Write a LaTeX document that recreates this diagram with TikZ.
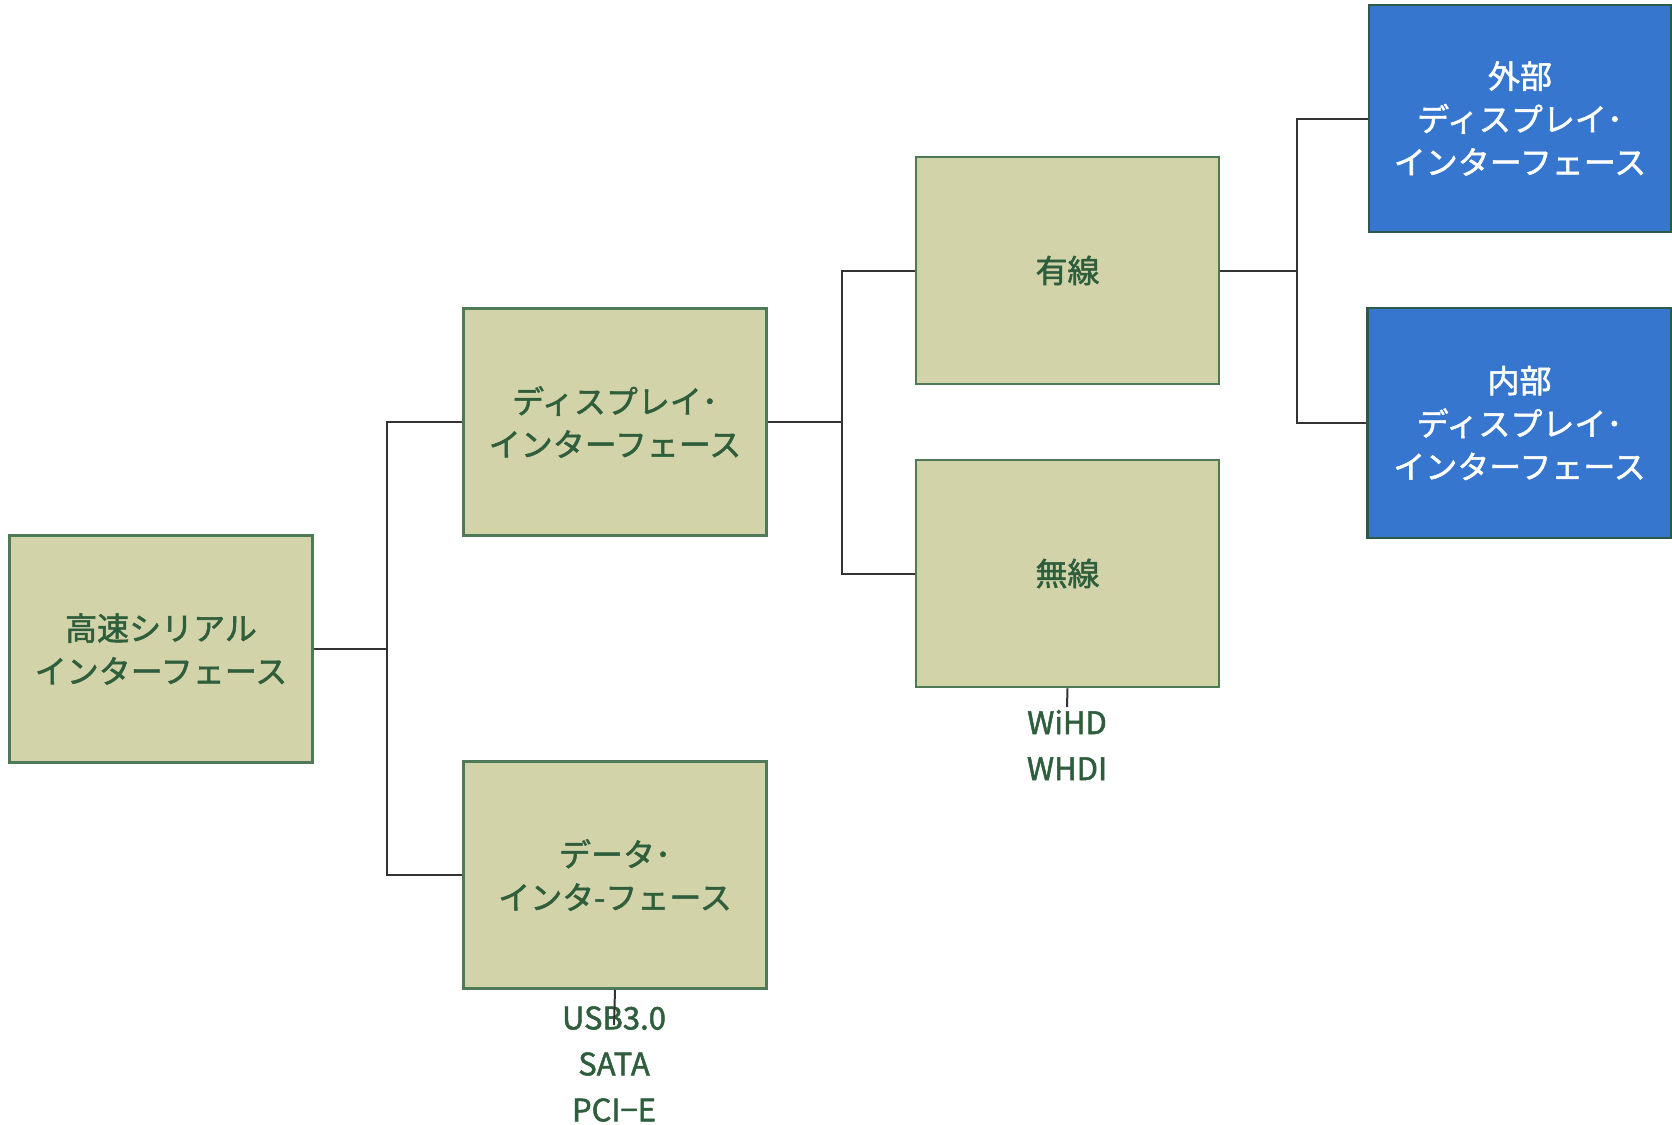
\documentclass[tikz,border=0pt]{standalone}
\usepackage{fontspec}
\setmainfont{Noto Sans CJK JP}[FakeBold=1.6]
\definecolor{boxfill}{HTML}{D3D3AA}
\definecolor{boxline}{HTML}{4F7A57}
\definecolor{txtgreen}{HTML}{2E5E3C}
\definecolor{bluefill}{HTML}{3676CE}
\definecolor{blueline}{HTML}{2C5A48}
\definecolor{conn}{HTML}{333333}
\tikzset{
  olivebox/.style={draw=boxline, line width=2.5pt, fill=boxfill, text=txtgreen,
    minimum width=303pt, minimum height=227pt, inner sep=0pt, align=center,
    font=\fontsize{32}{43}\selectfont},
  bluebox/.style={olivebox, draw=blueline, fill=bluefill, text=white},
  conline/.style={draw=conn, line width=2pt},
  tag/.style={text=txtgreen, align=center, inner sep=0pt, font=\fontsize{31}{46}\selectfont}
}
\begin{document}
\begin{tikzpicture}[x=1pt,y=-1pt]
\path[use as bounding box, fill=white] (0,0) rectangle (1672,1124);
\node[olivebox] (hs) at (161,649) {高速シリアル\\インターフェース};
\node[olivebox] (disp) at (615,422) {ディスプレイ･\\インターフェース};
\node[olivebox] (data) at (615,875) {データ･\\インタ-フェース};
\node[olivebox] (wired) at (1067.5,270.5) {有線};
\node[olivebox] (wless) at (1067.5,573.5) {無線};
\node[bluebox, minimum width=302pt] (ext) at (1520,118.5) {外部\\ディスプレイ･\\インターフェース};
\node[bluebox, minimum width=304pt, minimum height=230pt] (int) at (1519.5,423) {内部\\ディスプレイ･\\インターフェース};
% tree connectors
\coordinate (j1) at (387,649);
\coordinate (j2) at (842,422);
\coordinate (j3) at (1297,270.5);
\draw[conline] (hs.east) -- (j1);
\draw[conline] (disp.west) -| (j1) |- (data.west);
\draw[conline] (disp.east) -- (j2);
\draw[conline] (wired.west) -| (j2) |- (wless.west);
\draw[conline] (wired.east) -- (j3);
\draw[conline] (ext.west) -| (j3) |- (int.west);
% labels below
\node[tag] (wl) at (1067,745) {WiHD\\WHDI};
\node[tag] (dl) at (614,1064) {USB3.0\\SATA\\PCI−E};
\coordinate (wt) at (1067,707);
\coordinate (dt) at (614,1025);
\draw[conline] (wless.south) -- (wt);
\draw[conline] (data.south) -- (dt);
\end{tikzpicture}
\end{document}
